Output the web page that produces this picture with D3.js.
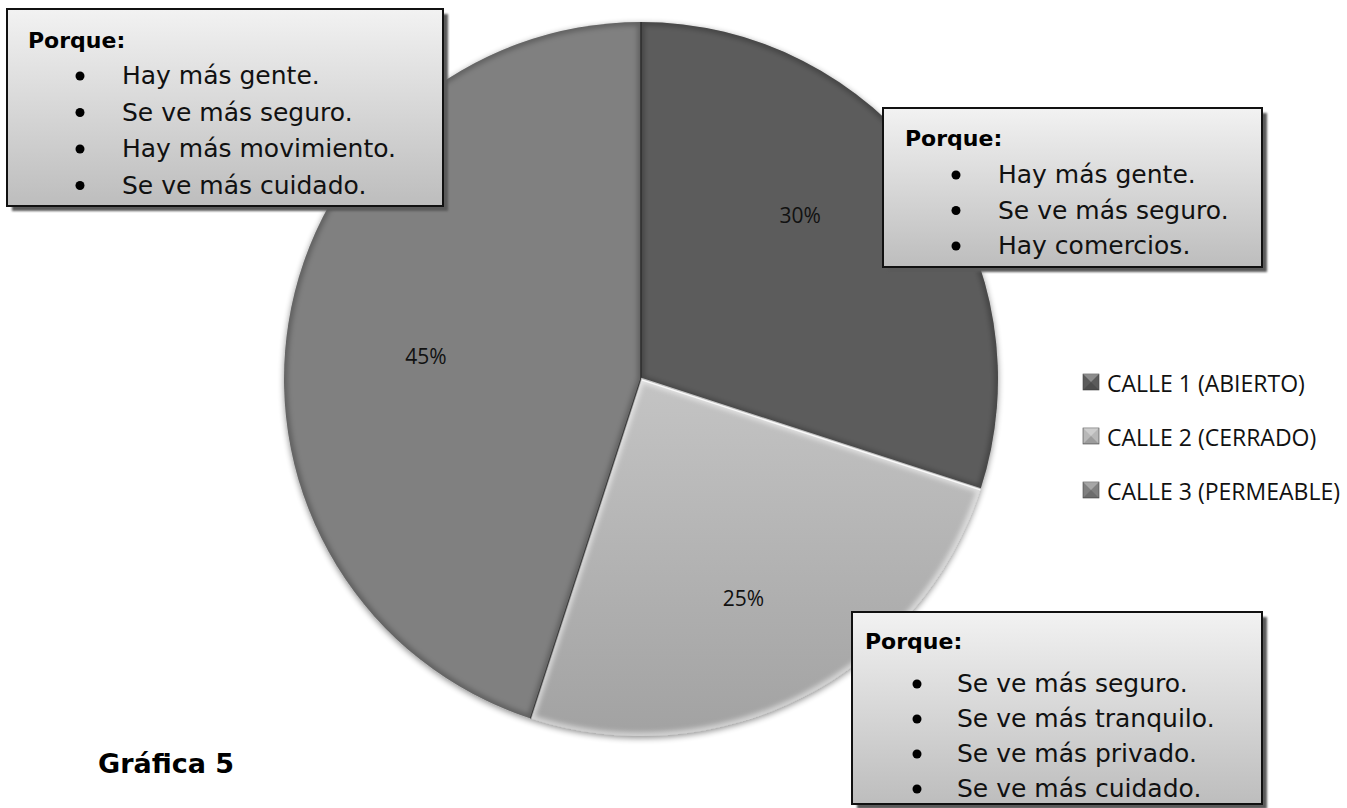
<!DOCTYPE html>
<html><head><meta charset="utf-8">
<script src="https://cdn.jsdelivr.net/npm/d3@7"></script>
<style>
html,body{margin:0;padding:0;background:#fff;}
svg{display:block;}
</style></head>
<body>
<svg id="chart" width="1347" height="808"></svg>
<script>
// ---- data ----
const categories = ["CALLE 1 (ABIERTO)", "CALLE 2 (CERRADO)", "CALLE 3 (PERMEABLE)"];
const values = [30, 25, 45];
const sliceColors = ["#5b5b5b", "#b8b8b8", "#808080"];
const reasons1 = ["Hay más gente.", "Se ve más seguro.", "Hay comercios."];
const reasons2 = ["Se ve más seguro.", "Se ve más tranquilo.", "Se ve más privado.", "Se ve más cuidado."];
const reasons3 = ["Hay más gente.", "Se ve más seguro.", "Hay más movimiento.", "Se ve más cuidado."];
const title = "Gráfica 5";

const svg = d3.select("#chart");
const defs = svg.append("defs");

// filters
const sh = defs.append("filter").attr("id","pieShadow").attr("x","-10%").attr("y","-10%").attr("width","120%").attr("height","120%");
sh.append("feGaussianBlur").attr("in","SourceAlpha").attr("stdDeviation",3).attr("result","b");
sh.append("feOffset").attr("in","b").attr("dx",0).attr("dy",2).attr("result","o");
sh.append("feComponentTransfer").attr("in","o").attr("result","o2").append("feFuncA").attr("type","linear").attr("slope",0.45);
const m = sh.append("feMerge"); m.append("feMergeNode").attr("in","o2"); m.append("feMergeNode").attr("in","SourceGraphic");

const bl = defs.append("filter").attr("id","bevelBlur").attr("x","-5%").attr("y","-5%").attr("width","110%").attr("height","110%");
bl.append("feGaussianBlur").attr("stdDeviation",2.5);

const bs = defs.append("filter").attr("id","boxShadow").attr("x","-5%").attr("y","-5%").attr("width","115%").attr("height","115%");
bs.append("feGaussianBlur").attr("stdDeviation",1.2);

const bg = defs.append("linearGradient").attr("id","boxGrad").attr("x1",0).attr("y1",0).attr("x2",0).attr("y2",1);
bg.append("stop").attr("offset","0%").attr("stop-color","#f2f2f2");
bg.append("stop").attr("offset","100%").attr("stop-color","#bdbdbd");

const g2 = defs.append("linearGradient").attr("id","slice2Grad").attr("x1",0).attr("y1",0).attr("x2",0).attr("y2",1);
g2.append("stop").attr("offset","0%").attr("stop-color","#c4c4c4");
g2.append("stop").attr("offset","100%").attr("stop-color","#a2a2a2");

// ---- pie ----
const cx = 641, cy = 379, R = 357;
const pie = d3.pie().sort(null).value(d => d).startAngle(0).endAngle(2*Math.PI);
const arcs = pie(values);
const arc = d3.arc().innerRadius(0).outerRadius(R);
const gPie = svg.append("g").attr("transform", `translate(${cx},${cy})`);

const fills = ["#5b5b5b", "url(#slice2Grad)", "#808080"];

gPie.append("g").attr("filter","url(#pieShadow)")
  .selectAll("path").data(arcs).join("path")
  .attr("d", arc).attr("fill", (d,i) => fills[i]);

// bevel effect: clip each slice, draw blurred inner edges
arcs.forEach((d,i) => {
  const cid = "clip" + i;
  defs.append("clipPath").attr("id", cid).append("path")
    .attr("d", arc(d)).attr("transform", `translate(${cx},${cy})`);
  const gg = svg.append("g").attr("clip-path", `url(#${cid})`);
  const p = gg.append("g").attr("transform", `translate(${cx},${cy})`);
  p.append("path").attr("d", arc(d)).attr("fill","none")
    .attr("stroke", i === 1 ? "#ffffff" : "#000000")
    .attr("stroke-opacity", i === 1 ? 0.55 : 0.25)
    .attr("stroke-width", 7).attr("filter","url(#bevelBlur)");
});

// slice separators
gPie.selectAll("path.sep").data(arcs).join("path").attr("class","sep")
  .attr("d", d => {
    const a = d.startAngle;
    return `M0,0L${R*Math.sin(a)},${-R*Math.cos(a)}`;
  })
  .attr("stroke", (d,i) => i === 1 ? "#f5f5f5" : "#3a3a3a")
  .attr("stroke-width", (d,i) => i === 1 ? 2.5 : 1.5)
  .attr("fill","none");

// labels
const labelArc = d3.arc().innerRadius(230).outerRadius(230);
const total = d3.sum(values);
const labelOffset = [[-27,-29],[-2,14],[12,13]];
gPie.selectAll("text.pct").data(arcs).join("text").attr("class","pct")
  .attr("x", (d,i) => labelArc.centroid(d)[0] + labelOffset[i][0])
  .attr("y", (d,i) => labelArc.centroid(d)[1] + labelOffset[i][1])
  .attr("text-anchor","middle").attr("dominant-baseline","central")
  .attr("font-family","'Open Sans', 'Liberation Sans', sans-serif")
  .attr("font-size", 21).attr("fill","#111")
  .text(d => Math.round(d.value / total * 100) + "%");

// ---- legend ----
const legend = svg.append("g").attr("transform","translate(1083,382)");
const lgRows = legend.selectAll("g").data(categories).join("g")
  .attr("transform",(d,i)=>`translate(0,${i*54})`);
lgRows.append("rect").attr("x",0).attr("y",-8).attr("width",16).attr("height",16)
  .attr("fill",(d,i)=>sliceColors[i]).attr("stroke","#444").attr("stroke-width",0.6);
lgRows.append("path").attr("d","M0,-8L8,0L16,-8Z").attr("fill","#fff").attr("fill-opacity",0.3);
lgRows.append("path").attr("d","M0,8L8,0L16,8Z").attr("fill","#000").attr("fill-opacity",0.15);
lgRows.append("text").attr("x",24).attr("y",1).attr("dominant-baseline","central")
  .attr("font-family","'Open Sans', 'Liberation Sans', sans-serif")
  .attr("font-size",23).attr("fill","#111").text(d=>d);

// ---- callout boxes ----
function box(x, y, w, h, headX, headY, bulletX, textX, firstY, step, items) {
  const g = svg.append("g");
  g.append("rect").attr("x",x+5).attr("y",y+5).attr("width",w).attr("height",h)
    .attr("fill","#5a5a5a").attr("filter","url(#boxShadow)");
  g.append("rect").attr("x",x).attr("y",y).attr("width",w).attr("height",h)
    .attr("fill","url(#boxGrad)").attr("stroke","#111").attr("stroke-width",2);
  g.append("text").attr("x",headX).attr("y",headY)
    .attr("font-family","'DejaVu Sans', sans-serif").attr("font-weight","bold")
    .attr("font-size",22).attr("fill","#000").text("Porque:");
  items.forEach((t,i) => {
    const by = firstY + i*step;
    g.append("circle").attr("cx",bulletX).attr("cy",by-8).attr("r",4.5).attr("fill","#000");
    g.append("text").attr("x",textX).attr("y",by)
      .attr("font-family","'DejaVu Sans', sans-serif")
      .attr("font-size",25).attr("fill","#111").text(t);
  });
}
box(7, 9, 436, 197, 28, 48, 80, 122, 84, 36.5, reasons3);
box(883, 108, 379, 159, 905, 146, 956, 998, 183, 35.5, reasons1);
box(852, 612, 410, 192, 865, 649, 917, 957, 692, 35, reasons2);

// title
svg.append("text").attr("x",98).attr("y",773)
  .attr("font-family","'DejaVu Sans', sans-serif").attr("font-weight","bold")
  .attr("font-size",27).attr("fill","#000").text(title);
</script>
</body></html>
